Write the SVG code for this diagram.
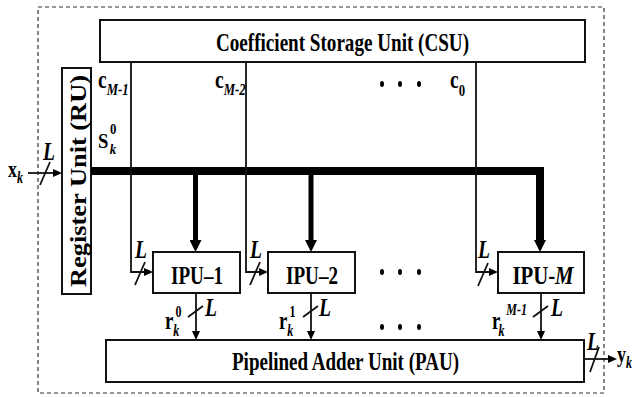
<svg xmlns="http://www.w3.org/2000/svg" width="635" height="397" viewBox="0 0 635 397">
<style>
.t{font-family:"Liberation Serif","Times New Roman",serif;font-weight:bold;fill:#000}
.i{font-style:italic}
.box{fill:#fff;stroke:#111;stroke-width:2}
.thin{fill:none;stroke:#111;stroke-width:1.8}
.bus{fill:none;stroke:#000;stroke-width:8}
.drop{fill:none;stroke:#000;stroke-width:5}
</style>
<defs>
<marker id="ah" markerWidth="9" markerHeight="8" refX="0" refY="4" orient="auto" markerUnits="userSpaceOnUse"><path d="M0,0 L9,4 L0,8 Z" fill="#000"/></marker>
<marker id="ahb" markerWidth="12" markerHeight="12" refX="0" refY="6" orient="auto" markerUnits="userSpaceOnUse"><path d="M0,0 L12,6 L0,12 Z" fill="#000"/></marker>
</defs>
<rect x="38" y="7" width="566" height="386" fill="none" stroke="#333" stroke-width="1.2" stroke-dasharray="4,3"/>

<g id="csu"><rect class="box" x="100" y="20" width="485" height="42"/>
<text class="t" x="342.5" y="51" text-anchor="middle" font-size="26" textLength="253" lengthAdjust="spacingAndGlyphs">Coefficient Storage Unit (CSU)</text></g>
<g id="ru"><rect class="box" x="62" y="68" width="29" height="226"/>
<text class="t" transform="translate(86,181) rotate(-90)" text-anchor="middle" font-size="24" textLength="212" lengthAdjust="spacingAndGlyphs">Register Unit (RU)</text></g>
<g id="ipu1"><rect class="box" x="153" y="252" width="87" height="41"/>
<text class="t" x="197" y="284" text-anchor="middle" font-size="26" textLength="52" lengthAdjust="spacingAndGlyphs">IPU–1</text></g>
<g id="ipu2"><rect class="box" x="268" y="252" width="87" height="41"/>
<text class="t" x="312" y="284" text-anchor="middle" font-size="26" textLength="52" lengthAdjust="spacingAndGlyphs">IPU–2</text></g>
<g id="ipum"><rect class="box" x="498" y="252" width="86" height="41"/>
<text class="t" transform="translate(543,284) scale(0.8,1)" text-anchor="middle" font-size="26">IPU-<tspan class="i">M</tspan></text></g>
<g id="pau"><rect class="box" x="106" y="340" width="478" height="42"/>
<text class="t" x="345.5" y="370" text-anchor="middle" font-size="25" textLength="227" lengthAdjust="spacingAndGlyphs">Pipelined Adder Unit (PAU)</text></g>

<g id="connectors">
<path class="bus" d="M91,171 H540 V240" marker-end="url(#ahb)"/>
<path class="drop" d="M195.5,171 V240" marker-end="url(#ahb)"/>
<path class="drop" d="M311,171 V240" marker-end="url(#ahb)"/>
<path class="thin" d="M131,62 V272 H144" marker-end="url(#ah)"/>
<path class="thin" d="M246,62 V272 H259" marker-end="url(#ah)"/>
<path class="thin" d="M476,62 V272 H489" marker-end="url(#ah)"/>
<path class="thin" d="M196,293 V331" marker-end="url(#ah)"/>
<path class="thin" d="M311,293 V331" marker-end="url(#ah)"/>
<path class="thin" d="M541,293 V331" marker-end="url(#ah)"/>
<path class="thin" d="M28,173 H53" marker-end="url(#ah)"/>
<path class="thin" d="M584,359 H608" marker-end="url(#ah)"/>
<path class="thin" d="M40,185 L50,162 M135,285 L145,262 M250,285 L260,262 M478,286 L488,263 M188,317 L203,306 M303,317 L318,306 M533,317 L548,306 M590,372 L599,347"/>
</g>

<g id="labels">
<text class="t i" x="43" y="160" font-size="26" textLength="12" lengthAdjust="spacingAndGlyphs">L</text>
<text class="t i" x="135" y="258" font-size="26" textLength="12" lengthAdjust="spacingAndGlyphs">L</text>
<text class="t i" x="250" y="258" font-size="26" textLength="12" lengthAdjust="spacingAndGlyphs">L</text>
<text class="t i" x="478" y="258" font-size="26" textLength="12" lengthAdjust="spacingAndGlyphs">L</text>
<text class="t i" x="205" y="316" font-size="26" textLength="12" lengthAdjust="spacingAndGlyphs">L</text>
<text class="t i" x="319" y="316" font-size="26" textLength="12" lengthAdjust="spacingAndGlyphs">L</text>
<text class="t i" x="551" y="316" font-size="26" textLength="12" lengthAdjust="spacingAndGlyphs">L</text>
<text class="t i" x="587" y="350" font-size="26" textLength="12" lengthAdjust="spacingAndGlyphs">L</text>

<text class="t" transform="translate(8,177) scale(0.75,1)" font-size="24">x<tspan class="i" font-size="16" dy="6">k</tspan></text>
<text class="t" transform="translate(617,362) scale(0.75,1)" font-size="24">y<tspan class="i" font-size="16" dy="6">k</tspan></text>

<text class="t" transform="translate(98,88) scale(0.75,1)" font-size="26">c<tspan class="i" font-size="17" dy="7">M-1</tspan></text>
<text class="t" transform="translate(215,88) scale(0.75,1)" font-size="26">c<tspan class="i" font-size="17" dy="7">M-2</tspan></text>
<text class="t" transform="translate(450,88) scale(0.75,1)" font-size="26">c<tspan font-size="17" dy="8">0</tspan></text>
<text class="t" transform="translate(98,148) scale(0.85,1)" font-size="22">S<tspan font-size="15" dx="2" dy="-14">0</tspan><tspan class="i" font-size="15" dx="-8" dy="20">k</tspan></text>

<text class="t" transform="translate(165,329) scale(0.75,1)" font-size="25">r<tspan font-size="16" dx="3" dy="-12">0</tspan><tspan class="i" font-size="16" dx="-11" dy="19">k</tspan></text>
<text class="t" transform="translate(279,329) scale(0.75,1)" font-size="25">r<tspan font-size="16" dx="3" dy="-12">1</tspan><tspan class="i" font-size="16" dx="-11" dy="19">k</tspan></text>
<text class="t" transform="translate(492,329) scale(0.75,1)" font-size="25">r<tspan class="i" font-size="16" dx="8" dy="-14">M-1</tspan><tspan class="i" font-size="16" dx="-38" dy="21">k</tspan></text>

<g id="dots" fill="#000">
<ellipse cx="382" cy="84" rx="2" ry="3"/><ellipse cx="400" cy="84" rx="2" ry="3"/><ellipse cx="419" cy="84" rx="2" ry="3"/>
<ellipse cx="382" cy="272" rx="2" ry="3"/><ellipse cx="400" cy="272" rx="2" ry="3"/><ellipse cx="419" cy="272" rx="2" ry="3"/>
<ellipse cx="382" cy="327" rx="2" ry="3"/><ellipse cx="400" cy="327" rx="2" ry="3"/><ellipse cx="419" cy="327" rx="2" ry="3"/>
</g>
</g>
</svg>
